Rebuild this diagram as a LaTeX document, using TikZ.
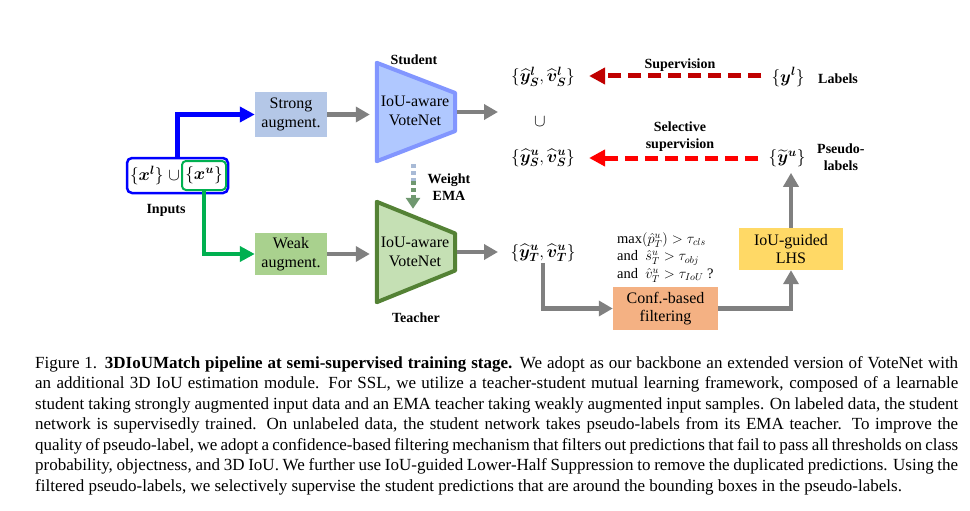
\documentclass[tikz,border=0pt]{standalone}
\usepackage{fontspec}
\usepackage{amsmath,bm}
\setmainfont{Liberation Serif}
\usetikzlibrary{arrows.meta,calc}
\definecolor{stufill}{RGB}{176,200,255}
\definecolor{studraw}{RGB}{130,150,255}
\definecolor{teafill}{RGB}{197,224,180}
\definecolor{teadraw}{RGB}{84,130,53}
\definecolor{strongfill}{RGB}{180,199,231}
\definecolor{weakfill}{RGB}{169,209,142}
\definecolor{conffill}{RGB}{244,177,131}
\definecolor{lhsfill}{RGB}{255,217,102}
\definecolor{arrgray}{RGB}{128,128,128}
\definecolor{supred}{RGB}{192,0,0}
\definecolor{selred}{RGB}{255,0,0}
\definecolor{inblue}{RGB}{0,0,255}
\definecolor{ingreen}{RGB}{0,176,80}
\definecolor{emablue}{RGB}{168,186,214}
\definecolor{emagreen}{RGB}{112,152,112}
\begin{document}
\begin{tikzpicture}[x=1pt,y=-1pt,
  box/.style={inner sep=0pt, align=center, font=\fontsize{16}{18.5}\selectfont},
  lbl/.style={font=\fontsize{14}{17}\bfseries\selectfont, align=center, inner sep=0pt},
  setn/.style={font=\fontsize{18}{20}\selectfont, inner sep=1pt},
  netshape/.style={inner sep=0pt, minimum width=78pt, align=center, font=\fontsize{16}{18.5}\selectfont},
  garrow/.style={draw=arrgray, line width=4.5pt, -{Triangle[length=14pt,width=15pt]}},
  redarrow/.style={line width=5pt, dash pattern=on 13pt off 7pt, -{Triangle[length=16pt,width=16pt]}},
]
\useasboundingbox (0,0) rectangle (970,511);

% inputs
\node[draw=inblue, line width=2.5pt, rounded corners=5pt, minimum width=101pt, minimum height=35pt, inner sep=0pt] (inp) at (177.5,175.5) {};
\node[setn, anchor=east, inner sep=0pt] (xl) at (180,175.5) {$\{\bm{x}^{\bm{l}}\}\;{\cup}$};
\node[draw=ingreen, line width=2pt, rounded corners=4pt, minimum width=44pt, minimum height=29pt, inner sep=0pt, setn] (xu) at (204,175.5) {$\{\bm{x}^{\bm{u}}\}$};
\node[lbl] (inlab) at (166,210) {Inputs};

% augment boxes
\node[box, fill=strongfill, minimum width=72pt, minimum height=45pt] (strong) at (291,114.5) {Strong\\augment.};
\node[box, fill=weakfill, minimum width=72pt, minimum height=42pt] (weak) at (291,254) {Weak\\augment.};

% student / teacher
\node[netshape, minimum height=98pt] (stu) at (416,112) {};
\fill[stufill] (stu.north west) -- ($(stu.east)+(0,-19)$) -- ($(stu.east)+(0,19)$) -- (stu.south west) -- cycle;
\draw[studraw, line width=4pt, line join=round] (stu.north west) -- ($(stu.east)+(0,-19)$) -- ($(stu.east)+(0,19)$) -- (stu.south west) -- cycle;
\node[netshape] (stut) at (415,111) {IoU-aware\\VoteNet};

\node[netshape, minimum height=100pt] (tea) at (416,252) {};
\fill[teafill] (tea.north west) -- ($(tea.east)+(0,-18.5)$) -- ($(tea.east)+(0,18.5)$) -- (tea.south west) -- cycle;
\draw[teadraw, line width=4pt, line join=round] (tea.north west) -- ($(tea.east)+(0,-18.5)$) -- ($(tea.east)+(0,18.5)$) -- (tea.south west) -- cycle;
\node[netshape] (teat) at (415,252) {IoU-aware\\VoteNet};

\node[lbl] (stulab) at (414,60) {Student};
\node[lbl] (tealab) at (416,318) {Teacher};
\node[lbl] (emalab) at (449,187) {Weight\\EMA};

% weight EMA arrow
\coordinate (emamid) at ($(stu.south)+(-3,20)$);
\draw[emablue, line width=5pt, dash pattern=on 4pt off 3pt] ($(stu.south)+(-3,3)$) -- (emamid);
\draw[emagreen, line width=5pt, dash pattern=on 4pt off 3pt, -{Triangle[length=11pt,width=14pt]}] (emamid) -- ($(tea.north)+(-3,7)$);

% input connectors
\draw[inblue, line width=5pt, -{Triangle[length=15pt,width=15pt]}] (inp.north) |- (strong.west);
\draw[ingreen, line width=4.5pt, -{Triangle[length=15pt,width=15pt]}] (xu.south) |- (weak.west);

% gray arrows
\draw[garrow, shorten >=7pt] (strong.east) -- (strong.east -| stu.west);
\draw[garrow, shorten >=7pt] (weak.east) -- (weak.east -| tea.west);
\coordinate (stuout) at (498,112);
\coordinate (teaout) at (498,252);
\draw[garrow] ($(stu.east)+(2,0)$) -- (stuout);
\draw[garrow] ($(tea.east)+(2,0)$) -- (teaout);

% right side sets
\node[setn] (ySl) at (543,77) {$\{\widehat{\bm{y}}^{\bm{l}}_{\bm{S}},\widehat{\bm{v}}^{\bm{l}}_{\bm{S}}\}$};
\node[setn] (cupn) at (540,122) {$\cup$};
\node[setn] (ySu) at (543,158) {$\{\widehat{\bm{y}}^{\bm{u}}_{\bm{S}},\widehat{\bm{v}}^{\bm{u}}_{\bm{S}}\}$};
\node[setn] (yl) at (788,77) {$\{\bm{y}^{\bm{l}}\}$};
\node[lbl, anchor=west] (lablab) at (818,79) {Labels};
\node[setn] (ytu) at (787,158) {$\{\widetilde{\bm{y}}^{\bm{u}}\}$};
\node[lbl, anchor=west] (pslab) at (817,157) {Pseudo-\\labels};
\node[setn] (yTu) at (543,253) {$\{\widehat{\bm{y}}^{\bm{u}}_{\bm{T}},\widehat{\bm{v}}^{\bm{u}}_{\bm{T}}\}$};

\draw[redarrow, supred] ($(yl.west)+(-9,-1)$) -- ($(ySl.east)+(13,-1)$);
\node[lbl] (suplab) at (680,65) {Supervision};
\draw[redarrow, selred] ($(ytu.west)+(-9,0)$) -- ($(ySu.east)+(13,0)$);
\node[lbl] (sellab) at (680,137) {Selective\\supervision};

% filtering
\node[box, fill=conffill, minimum width=105pt, minimum height=43pt] (conf) at (665.5,308.5) {Conf.-based\\filtering};
\node[box, fill=lhsfill, minimum width=104pt, minimum height=42pt] (lhs) at (791,249) {IoU-guided\\LHS};
\node[anchor=west, align=left, inner sep=0pt, font=\fontsize{14.5}{17.5}\selectfont] (cond) at (617,257.5)
  {$\max(\hat{p}^{u}_{T}) > \tau_{cls}$\\and\ \ $\hat{s}^{u}_{T} > \tau_{obj}$\\and\ \ $\hat{v}^{u}_{T} > \tau_{IoU}$ ?};

\draw[garrow] (yTu.south) |- (conf.west);
\draw[garrow] (conf.east) -| (lhs.south);
\draw[garrow, shorten >=5pt] (lhs.north) -- (lhs.north |- ytu.south);

% caption
\node[anchor=north west, inner sep=0pt, text width=923pt, align=justify,
  font=\fontsize{17}{20.5}\selectfont] (cap) at (35,356)
{\hyphenpenalty=10000\emergencystretch=10pt
Figure 1. \textbf{3DIoUMatch pipeline at semi-supervised training stage.} We adopt as our backbone an extended version of VoteNet with\linebreak
an additional 3D IoU estimation module. For SSL, we utilize a teacher-student mutual learning framework, composed of a learnable\linebreak
student taking strongly augmented input data and an EMA teacher taking weakly augmented input samples. On labeled data, the student\linebreak
network is supervisedly trained. On unlabeled data, the student network takes pseudo-labels from its EMA teacher. To improve the\linebreak
quality of pseudo-label, we adopt a confidence-based filtering mechanism that filters out predictions that fail to pass all thresholds on class\linebreak
probability, objectness, and 3D IoU. We further use IoU-guided Lower-Half Suppression to remove the duplicated predictions. Using the\linebreak
filtered pseudo-labels, we selectively supervise the student predictions that are around the bounding boxes in the pseudo-labels.};
\end{tikzpicture}
\end{document}
